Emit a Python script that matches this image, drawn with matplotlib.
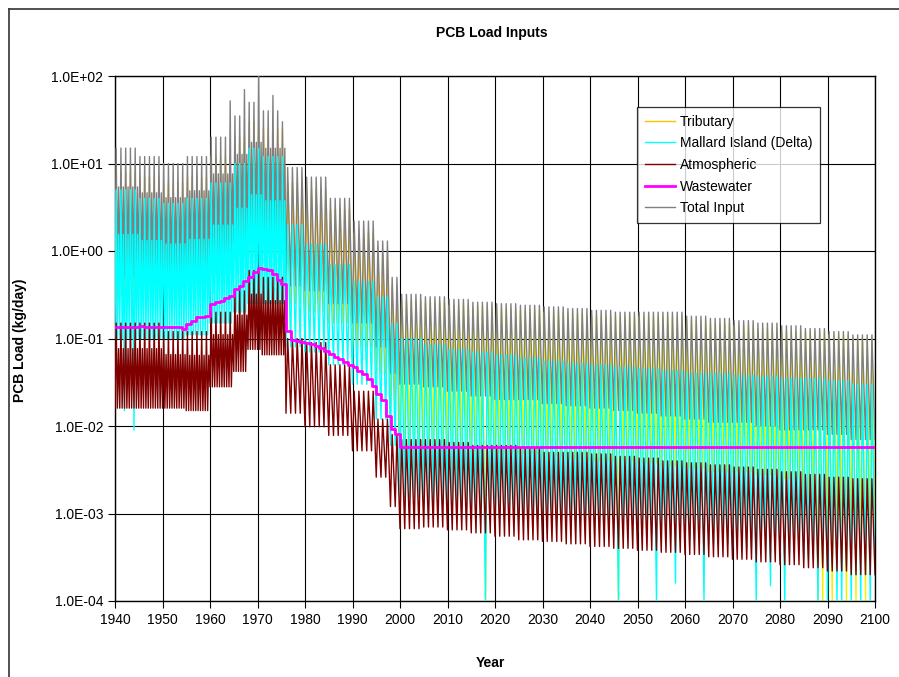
import matplotlib
matplotlib.use("Agg")
import matplotlib.pyplot as plt
import numpy as np
from matplotlib.lines import Line2D
from matplotlib.ticker import FuncFormatter, FixedLocator

plt.rcParams['font.family'] = ['Liberation Sans', 'DejaVu Sans']

# start years of the periods used for the seasonal peak / trough envelopes
bin_start = [1940, 1945, 1950, 1955, 1960, 1965, 1968, 1971, 1976, 1980, 1985, 1990, 1995, 1998,
             2000, 2005, 2010, 2015, 2020, 2025, 2030, 2035, 2040, 2045, 2050, 2055, 2060, 2065,
             2070, 2075, 2080, 2085, 2090, 2095]

# Tributary (kg/day)
trib_peak = [8, 7, 6, 7, 12, 20, 30, 25, 6, 5, 3, 1.6, 0.9, 0.4,
             0.27, 0.26, 0.24, 0.23, 0.22, 0.21, 0.2, 0.19, 0.18, 0.18, 0.18, 0.18, 0.16, 0.15,
             0.14, 0.13, 0.12, 0.12, 0.11, 0.1]
trib_low = [0.3, 0.3, 0.3, 0.35, 0.5, 0.7, 0.9, 0.9, 0.25, 0.2, 0.15, 0.08, 0.04, 0.015,
            0.006, 0.006, 0.0055, 0.005, 0.005, 0.0048, 0.0045, 0.0043, 0.004, 0.004, 0.0038, 0.0035,
            0.0033, 0.003, 0.003, 0.0028, 0.0025, 0.0015, 0.0008, 0.0005]

# Mallard Island (Delta)
mall_peak = [5, 4, 3.5, 4, 6, 10, 15, 12, 2, 1.2, 0.7, 0.45, 0.3, 0.15,
             0.1, 0.085, 0.075, 0.07, 0.065, 0.06, 0.055, 0.052, 0.05, 0.047, 0.045, 0.043, 0.04,
             0.04, 0.038, 0.037, 0.035, 0.035, 0.033, 0.03]
mall_low = [0.1, 0.1, 0.1, 0.11, 0.15, 0.2, 0.25, 0.25, 0.08, 0.07, 0.05, 0.03, 0.012, 0.006,
            0.0015, 0.0013, 0.0012, 0.0011, 0.001, 0.0009, 0.00085, 0.0008, 0.0007, 0.00065, 0.0006,
            0.00055, 0.0005, 0.00045, 0.0004, 0.00038, 0.00035, 0.0003, 0.00025, 0.0002]

# Atmospheric
atm_peak = [0.15, 0.15, 0.12, 0.12, 0.2, 0.35, 0.6, 0.5, 0.1, 0.09, 0.05, 0.025, 0.012, 0.008,
            0.007, 0.007, 0.0065, 0.006, 0.006, 0.0055, 0.005, 0.005, 0.0048, 0.0045, 0.0043, 0.004,
            0.0038, 0.0036, 0.0034, 0.0032, 0.003, 0.0028, 0.0026, 0.0025]
atm_low = [0.016, 0.016, 0.016, 0.015, 0.028, 0.042, 0.075, 0.065, 0.014, 0.0098, 0.0078, 0.0052,
           0.0026, 0.0012, 0.00067, 0.0007, 0.00065, 0.0006, 0.00055, 0.0005, 0.00048, 0.00045,
           0.00042, 0.0004, 0.00038, 0.00036, 0.00034, 0.00032, 0.0003, 0.00028, 0.00026, 0.00024,
           0.00022, 0.0002]

# Total Input
tot_peak = [15, 12, 10, 12, 20, 35, 50, 40, 9, 7, 4, 2.2, 1.3, 0.5,
            0.32, 0.3, 0.28, 0.26, 0.25, 0.24, 0.23, 0.22, 0.21, 0.2, 0.2, 0.2, 0.18, 0.17,
            0.16, 0.15, 0.14, 0.13, 0.12, 0.11]
tot_low = [0.5, 0.5, 0.5, 0.6, 0.8, 1.2, 1.5, 1.5, 0.4, 0.35, 0.25, 0.15, 0.08, 0.04,
           0.03, 0.028, 0.025, 0.022, 0.02, 0.02, 0.018, 0.017, 0.016, 0.015, 0.014, 0.013, 0.012,
           0.011, 0.011, 0.01, 0.009, 0.009, 0.008, 0.007]

# single-year extremes
tot_up_years = [1964, 1967, 1970, 1973, 1975]
tot_up_vals = [52, 70, 100, 60, 30]
mall_down_years = [1942, 1944, 2018, 2046, 2054, 2058, 2064, 2075, 2078, 2081,
                   2088, 2090, 2092, 2093, 2095, 2097, 2099]
mall_down_vals = [0.015, 0.009, 1e-4, 1e-4, 1e-4, 1.6e-4, 1e-4, 1e-4, 1.5e-4, 1e-4,
                  1e-4, 1e-4, 1e-4, 1e-4, 1e-4, 1e-4, 1e-4]
trib_down_years = [2018, 2046, 2088, 2089, 2091, 2094, 2096, 2098]
trib_down_vals = [1e-4, 1e-4, 1e-4, 1e-4, 1e-4, 1e-4, 1e-4, 1e-4]

# Wastewater, yearly steps 1940-2000, constant afterwards
waste_years = list(range(1940, 2001)) + [2100]
waste_vals = [0.137, 0.137, 0.137, 0.137, 0.137, 0.14, 0.137, 0.137, 0.137, 0.137,
              0.135, 0.135, 0.135, 0.135, 0.13, 0.147, 0.16, 0.175, 0.178, 0.18,
              0.248, 0.26, 0.27, 0.29, 0.31, 0.37, 0.40, 0.45, 0.50, 0.57,
              0.64, 0.62, 0.60, 0.55, 0.47, 0.42, 0.123, 0.095, 0.093, 0.092,
              0.09, 0.086, 0.082, 0.077, 0.072, 0.067, 0.062, 0.058, 0.054, 0.05,
              0.047, 0.043, 0.039, 0.034, 0.029, 0.023, 0.02, 0.013, 0.0093, 0.0082,
              0.0057, 0.0057]


def build(peaks, lows, up=None, down=None):
    # one winter peak a year; before 1976 also a smaller storm peak
    up = up or {}
    down = down or {}
    t, v = [], []
    for yr in range(1940, 2100):
        i = np.searchsorted(bin_start, yr, side='right') - 1
        lo, hi = down.get(yr, lows[i]), up.get(yr, peaks[i])
        if yr < 1976:
            h2 = lows[i] ** 0.3 * peaks[i] ** 0.7
            t += [yr, yr + 0.25, yr + 0.5, yr + 0.75]
            v += [lo, hi, lows[i], h2]
        else:
            t += [yr, yr + 0.35]
            v += [lo, hi]
    t.append(2100)
    v.append(lows[-1])
    return np.array(t), np.array(v)


fig = plt.figure(figsize=(8.99, 6.77), dpi=100)
ax = fig.add_axes([115 / 899, 1 - 601 / 677, 760 / 899, 525 / 677])

lw = 1.0
tt, tv = build(trib_peak, trib_low, down=dict(zip(trib_down_years, trib_down_vals)))
m = tt <= 2000
ax.plot(tt[m], tv[m], color='#FFC000', lw=lw, zorder=2, label='Tributary')
ax.plot(tt[tt >= 2000], tv[tt >= 2000], color='#F2F200', lw=lw, zorder=2)

ot, ov = build(tot_peak, tot_low, up=dict(zip(tot_up_years, tot_up_vals)))
mt, mv = build(mall_peak, mall_low, down=dict(zip(mall_down_years, mall_down_vals)))
ax.plot(mt, mv, color='#00FFFF', lw=lw, zorder=4, label='Mallard Island (Delta)')

at, av = build(atm_peak, atm_low)
ax.plot(at, av, color='#800000', lw=lw, zorder=5, label='Atmospheric')

ax.plot(waste_years, waste_vals, color='#FF00FF', lw=2, drawstyle='steps-post', zorder=6,
        label='Wastewater')
ax.plot(ot, ov, color='#808080', lw=lw, zorder=3, label='Total Input')

ax.set_yscale('log')
ax.set_xlim(1940, 2100)
ax.set_ylim(1e-4, 1e2)
ax.xaxis.set_major_locator(FixedLocator(range(1940, 2101, 10)))
ax.yaxis.set_major_locator(FixedLocator([10.0 ** k for k in range(-4, 3)]))
ax.yaxis.set_minor_locator(FixedLocator([]))
ax.yaxis.set_major_formatter(FuncFormatter(lambda v, p: f"{v:.1E}"))
ax.grid(True, which='major', color='black', lw=0.8)
ax.set_axisbelow(True)
ax.tick_params(axis='both', direction='out', length=5, width=0.8, labelsize=10, color='black')
for s in ax.spines.values():
    s.set_linewidth(1.0)
    s.set_color('black')

leg = ax.legend(loc='upper left', bbox_to_anchor=(0.687, 0.941), borderaxespad=0,
                fontsize=10, frameon=True, fancybox=False, handlelength=2.2,
                labelspacing=0.55, borderpad=0.55, handletextpad=0.35)
leg.get_frame().set_edgecolor('black')
leg.get_frame().set_linewidth(0.9)
leg.set_zorder(10)

fig.text(0.547, 1 - 33 / 677, 'PCB Load Inputs', ha='center', va='center',
         fontsize=10, fontweight='bold')
fig.text(20 / 899, 1 - 340 / 677, 'PCB Load (kg/day)', ha='center', va='center',
         rotation=90, fontsize=10, fontweight='bold')
fig.text(490 / 899, 1 - 663 / 677, 'Year', ha='center', va='center',
         fontsize=10, fontweight='bold')

# chart area border
fig.add_artist(Line2D([9 / 899, 9 / 899], [0, 1 - 9 / 677], color='#333333', lw=1.2))
fig.add_artist(Line2D([9 / 899, 1], [1 - 9 / 677, 1 - 9 / 677], color='#333333', lw=1.2))

fig.savefig('out.png', dpi=100)
